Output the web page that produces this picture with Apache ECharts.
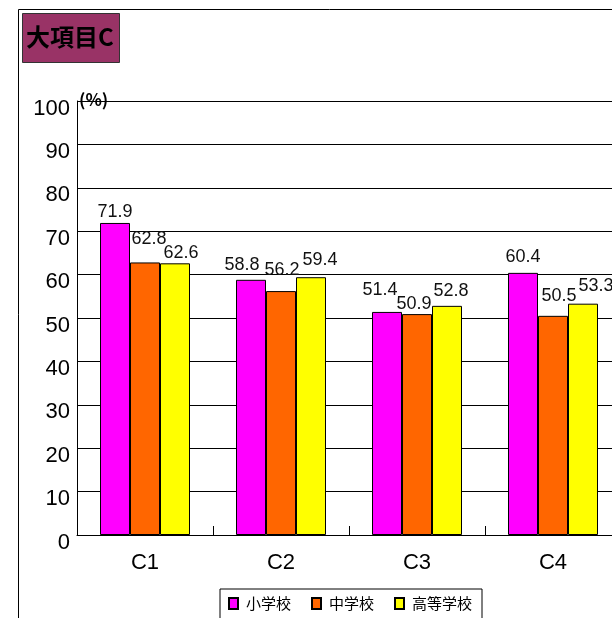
<!DOCTYPE html>
<html><head><meta charset="utf-8">
<script src="https://cdn.jsdelivr.net/npm/echarts@6/dist/echarts.min.js"></script>
<style>html,body{margin:0;padding:0;overflow:hidden;background:#fff;width:612px;height:618px}#c{width:640px;height:618px}</style>
</head><body><div id="c"></div>
<script>
const categories = ['C1','C2','C3','C4'];
const elementary = [71.9, 58.8, 51.4, 60.4];
const juniorHigh = [62.8, 56.2, 50.9, 50.5];
const highSchool = [62.6, 59.4, 52.8, 53.3];
const seriesNames = ['小学校','中学校','高等学校'];
const yTicks = {min:0, max:100, interval:10};
// label nudges (style only), [dx, dy] per bar, as placed in the original
const labelNudges = [
  [[0,0],[-9,-4],[-7,-11],[0,-5]],
  [[4,-12],[1,-10],[-3,1],[6,-9]],
  [[6,1],[9,-6],[4,-4],[13,-7]]
];

const chart = echarts.init(document.getElementById('c'));
const font = '"Liberation Sans", "Noto Sans CJK JP", sans-serif';
function mk(idx, data, color){
  return {name:seriesNames[idx], type:'bar', barWidth:30, barGap:'0%',
    data: data.map((v,i)=>({value:v, label:{offset:labelNudges[idx][i]}})),
    itemStyle:{color, borderColor:'#000', borderWidth:1},
    label:{show:true, position:'top', distance:2, color:'#111', fontSize:18, fontFamily:font},
    emphasis:{disabled:true}};
}
chart.setOption({
  animation:false,
  textStyle:{fontFamily:font},
  graphic:[
    {type:'rect', shape:{x:18.5,y:9.5,width:700,height:700}, style:{fill:'none',stroke:'#000',lineWidth:1}, z:-10},
    {type:'rect', shape:{x:22.5,y:13.5,width:97,height:49}, style:{fill:'#993366',stroke:'#333',lineWidth:1}},
    {type:'text', x:26, y:25, style:{text:'大項目C', font:'bold 24px "Noto Sans CJK JP", sans-serif', fill:'#000'}},
    {type:'text', x:79, y:91, style:{text:'(%)', font:'bold 17px "Noto Sans CJK JP", sans-serif', fill:'#000'}}
  ],
  legend:{left:220, top:589, data:seriesNames, icon:'rect', itemWidth:9, itemHeight:11, itemGap:20,
    borderColor:'#000', borderWidth:1, padding:[7,10,9,8],
    textStyle:{fontSize:15, color:'#000', fontFamily:'"Noto Sans CJK JP", sans-serif', padding:[0,0,0,3]}},
  grid:{left:77, top:101, width:544, bottom:83, containLabel:false},
  xAxis:{type:'category', data:categories,
    axisLine:{lineStyle:{color:'#000',width:1}},
    axisTick:{show:true, inside:true, length:9, interval:0, lineStyle:{color:'#000'}},
    axisLabel:{fontSize:22, color:'#000', margin:17, interval:0}},
  yAxis:{type:'value', min:yTicks.min, max:yTicks.max, interval:yTicks.interval,
    axisLine:{show:true, lineStyle:{color:'#000'}},
    axisTick:{show:false},
    splitLine:{lineStyle:{color:'#000',width:1}},
    axisLabel:{fontSize:22, color:'#000', margin:7, verticalAlign:'top', lineHeight:15}},
  series:[mk(0, elementary, '#FF00FF'), mk(1, juniorHigh, '#FF6600'), mk(2, highSchool, '#FFFF00')]
});
</script></body></html>
